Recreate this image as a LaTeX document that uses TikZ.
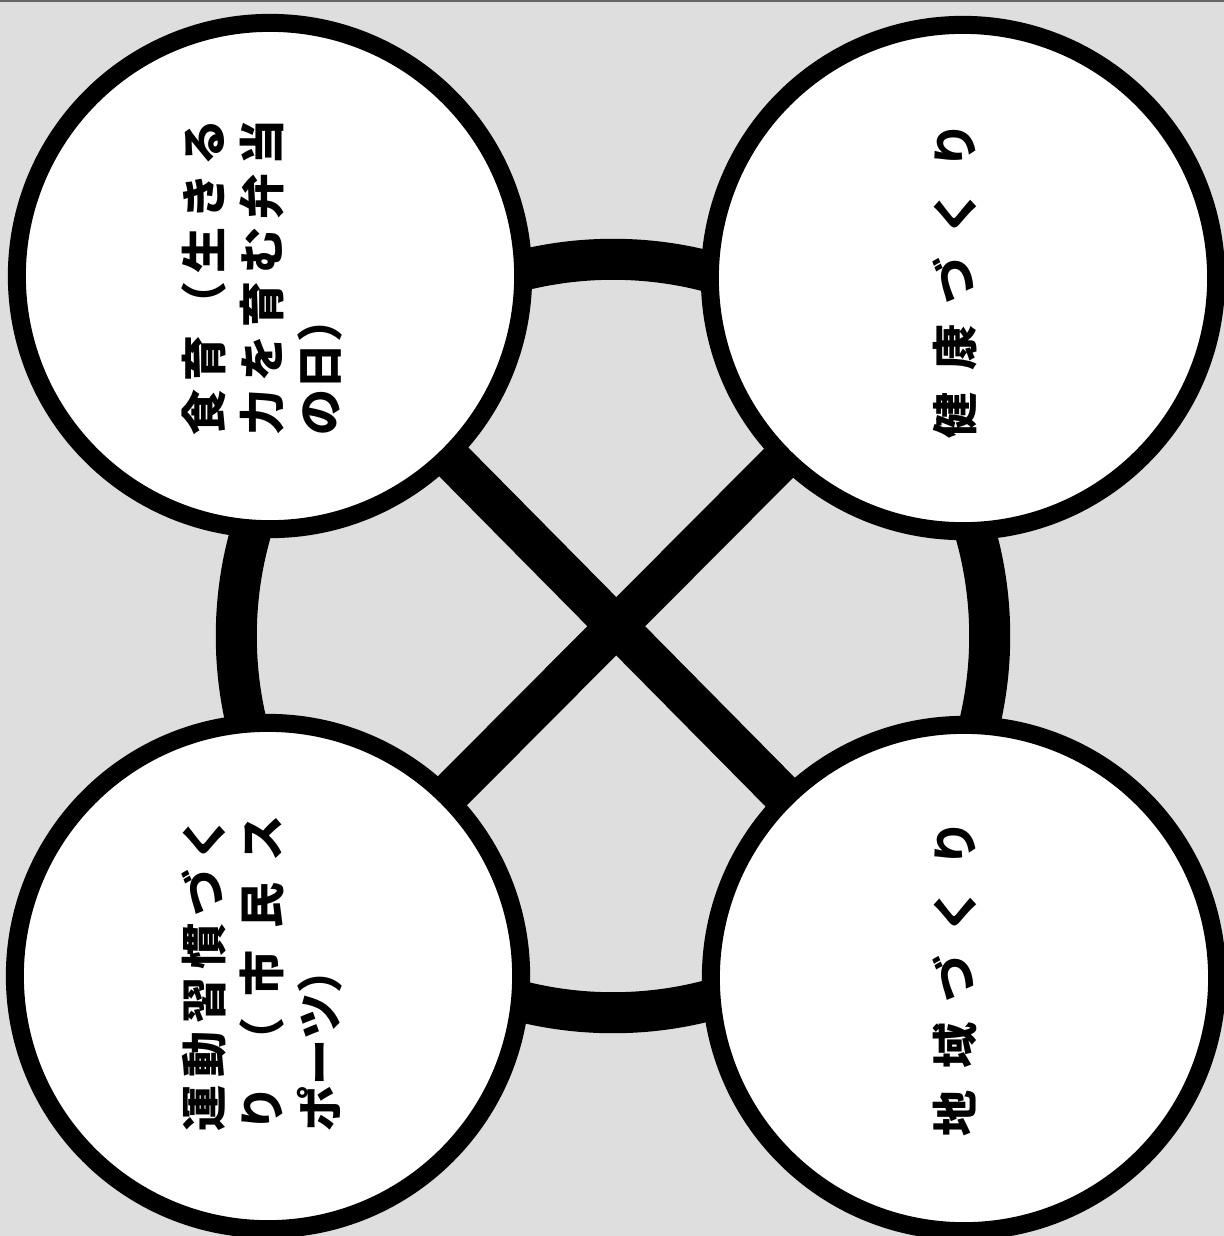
\documentclass[tikz,border=0pt]{standalone}
\usepackage{fontspec}
\newfontfamily\jp{Noto Sans CJK JP}
\usepackage{tikz}

\pgfdeclarelayer{back}
\pgfdeclarelayer{links}
\pgfsetlayers{back,links,main}

\colorlet{paper}{black!13}
% one line spread evenly over the full width
\newcommand{\evenline}[1]{\makebox[3.16cm][s]{#1}}

\begin{document}
\begin{tikzpicture}[
  x=0.01cm, y=-0.01cm,
  blob/.style = {draw, circle, fill=white, line width=0.18cm,
                 minimum size=5.06cm, inner sep=0pt},
  hub/.style  = {draw, circle, line width=0.41cm,
                 minimum size=7.53cm, inner sep=0pt},
  link/.style = {line width=0.41cm},
  lbl/.style  = {rotate=90, align=left, inner sep=0pt,
                 font=\jp\bfseries\fontsize{13.1pt}{16.4pt}\selectfont}
]
  \useasboundingbox (0,0) rectangle (1224,1236);

  % circles
  \node[blob] (shokuiku) at (270,276) {};
  \node[blob] (kenko)    at (963,278) {};
  \node[blob] (undo)     at (268,976) {};
  \node[blob] (chiiki)   at (964,978) {};

  % texts
  \node[lbl] (shokuiku-t) at (262,277)
    {\evenline{食\hfill 育\hfill （\hfill 生\hfill き\hfill る}\\
     \evenline{力\hfill を\hfill 育\hfill む\hfill 弁\hfill 当}\\
     の日）};
  \node[lbl] (kenko-t) at (955,280)
    {\evenline{健\hfill 康\hfill づ\hfill く\hfill り}};
  \node[lbl] (undo-t) at (262,973)
    {\evenline{運\hfill 動\hfill 習\hfill 慣\hfill づ\hfill く}\\
     \evenline{り\hfill （\hfill 市\hfill 民\hfill ス}\\
     ポーツ）};
  \node[lbl] (chiiki-t) at (955,978)
    {\evenline{地\hfill 域\hfill づ\hfill く\hfill り}};

  % ring and cross behind the circles
  \begin{pgfonlayer}{links}
    \node[hub] (ring) at (613,636) {};
    \draw[link] (shokuiku.center) -- (chiiki.center);
    \draw[link] (kenko.center) -- (undo.center);
  \end{pgfonlayer}

  % paper
  \begin{pgfonlayer}{back}
    \fill[paper] (0,0) rectangle (1224,1236);
    \draw[black!60, line width=0.02cm] (0,1) -- (1224,1);
  \end{pgfonlayer}

\end{tikzpicture}
\end{document}
